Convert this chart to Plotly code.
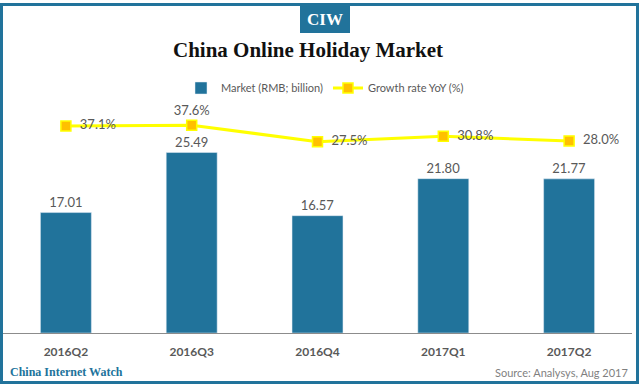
import plotly.graph_objects as go

categories = ["2016Q2", "2016Q3", "2016Q4", "2017Q1", "2017Q2"]
market = [17.01, 25.49, 16.57, 21.80, 21.77]
growth = [37.1, 37.6, 27.5, 30.8, 28.0]
growth_labels = ["37.1%", "37.6%", "27.5%", "30.8%", "28.0%"]
growth_label_pos = ["middle right", "top center", "middle right", "middle right", "middle right"]

TEAL = "#21739B"
GRAY = "#595959"
W, H = 640, 384
ML, MR, MT, MB = 3, 8, 100, 51
PW = W - ML - MR
PH = H - MT - MB


def px2x(px):
    return (px - ML) / PW


def px2y(py):
    return (H - MB - py) / PH


label_text = [("\u00a0\u00a0" + t) if p == "middle right" else t
              for t, p in zip(growth_labels, growth_label_pos)]

fig = go.Figure()
fig.add_trace(go.Bar(
    x=categories, y=market, name="Market (RMB; billion)",
    marker=dict(color=TEAL), texttemplate="%{y:.2f}", textposition="outside",
    textfont=dict(family="Lato", size=13, color=GRAY), cliponaxis=False,
))
fig.add_trace(go.Scatter(
    x=categories, y=growth, name="Growth rate YoY (%)", yaxis="y2",
    mode="lines+markers+text", line=dict(color="#FFFF00", width=3),
    marker=dict(symbol="square", size=10, color="#FFC000", line=dict(color="#FFFF00", width=1.5)),
    text=label_text, textposition=growth_label_pos,
    textfont=dict(family="Lato", size=13, color=GRAY), cliponaxis=False,
))

fig.update_layout(
    width=W, height=H, margin=dict(l=ML, r=MR, t=MT, b=MB),
    paper_bgcolor="white", plot_bgcolor="white",
    bargap=0.595, showlegend=True,
    legend=dict(orientation="h", x=px2x(325), xanchor="center", y=px2y(88), yanchor="middle",
                font=dict(family="Lato", size=11, color=GRAY), bgcolor="rgba(0,0,0,0)"),
    xaxis=dict(showline=True, linecolor="#8C8C8C", linewidth=1, ticks="",
               tickfont=dict(family="Lato", size=12, color=GRAY, weight="bold"),
               ticklabelstandoff=8, showgrid=False, zeroline=False),
    yaxis=dict(range=[0, PH / 7.08], visible=False, showgrid=False, zeroline=False),
    yaxis2=dict(range=[-89.5, -89.5 + PH / 1.635], overlaying="y", side="right",
                visible=False, showgrid=False, zeroline=False),
    shapes=[
        dict(type="rect", xref="paper", yref="paper",
             x0=px2x(1.5), x1=px2x(637.5), y0=px2y(382.5), y1=px2y(4.5),
             line=dict(color=TEAL, width=3), fillcolor="rgba(0,0,0,0)", layer="above"),
        dict(type="rect", xref="paper", yref="paper",
             x0=px2x(300), x1=px2x(350), y0=px2y(33), y1=px2y(5),
             line=dict(width=0), fillcolor=TEAL),
    ],
    annotations=[
        dict(text="<b>CIW</b>", xref="paper", yref="paper", x=px2x(325), y=px2y(19.5),
             xanchor="center", yanchor="middle", showarrow=False,
             font=dict(family="Liberation Serif", size=17, color="white")),
        dict(text="<b>China Online Holiday Market</b>", xref="paper", yref="paper",
             x=px2x(307.5), y=px2y(50), xanchor="center", yanchor="middle", showarrow=False,
             font=dict(family="Liberation Serif", size=21, color="#111111")),
        dict(text="<b>China Internet Watch</b>", xref="paper", yref="paper",
             x=px2x(8), y=px2y(372), xanchor="left", yanchor="middle", showarrow=False,
             font=dict(family="Liberation Serif", size=12, color=TEAL)),
        dict(text="Source: Analysys, Aug 2017", xref="paper", yref="paper",
             x=px2x(630), y=px2y(372), xanchor="right", yanchor="middle", showarrow=False,
             font=dict(family="Lato", size=11, color="#7F7F7F")),
    ],
)

fig.write_html("out.html", config={"displayModeBar": False},
               post_script="document.body.style.margin='0px';")
